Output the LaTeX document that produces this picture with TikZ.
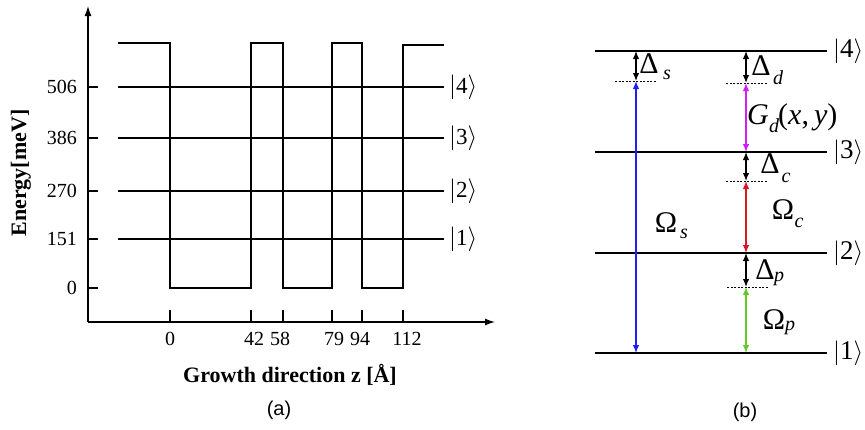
\documentclass[tikz,border=0pt]{standalone}
\usepackage{fontspec}
\setmainfont{Liberation Serif}
\newfontfamily\sansf{Liberation Sans}
\usetikzlibrary{arrows.meta}
\definecolor{cblue}{RGB}{30,30,250}
\definecolor{cmag}{RGB}{210,30,250}
\definecolor{cred}{RGB}{215,25,35}
\definecolor{cgreen}{RGB}{100,200,40}
\begin{document}
\begin{tikzpicture}[x=1pt,y=-1pt,
  axisline/.style={line width=1.3pt,-{Latex[length=10pt,width=7pt]}},
  levelline/.style={line width=1.3pt},
  tickline/.style={line width=1.1pt},
  numlab/.style={font=\fontsize{20}{20}\selectfont,inner sep=0pt},
  boldlab/.style={font=\bfseries\fontsize{22}{22}\selectfont,inner sep=0pt},
  ketL/.style={font=\fontsize{23}{23}\selectfont,inner sep=0pt,anchor=west},
  ketR/.style={font=\fontsize{27}{27}\selectfont,inner sep=0pt,anchor=west},
  caplab/.style={font=\sansf\fontsize{20}{20}\selectfont,inner sep=0pt},
  lvlR/.style={line width=1.2pt},
  dashlvl/.style={line width=0.9pt,dash pattern=on 2pt off 1.5pt},
  darrow/.style={line width=1.3pt,{Latex[length=8pt,width=6.5pt]}-{Latex[length=8pt,width=6.5pt]}},
  greek/.style={font=\fontsize{30}{30}\selectfont,inner sep=0pt},
  subs/.style={font=\itshape\fontsize{20}{20}\selectfont,inner sep=0pt,anchor=base},
]
\useasboundingbox (0,0) rectangle (865,429);

% ---------------- panel (a) ----------------
\coordinate (O) at (88,322);
\coordinate (ytop) at (88,6);
\coordinate (xend) at (495,322);
\draw[axisline] (O) -- (ytop);
\draw[axisline] (O) -- (xend);

% y ticks and labels
\foreach \v/\yy in {506/87,386/138,270/191,151/239,0/288}{
  \coordinate (yt\v) at (88,\yy);
  \coordinate (ye\v) at (98,\yy);
  \draw[tickline] (yt\v) -- (ye\v);
  \node[numlab,anchor=east] (yl\v) at (77,\yy) {\v};
}

% energy levels
\foreach \k/\yy in {4/87,3/138,2/191,1/239}{
  \coordinate (ls\k) at (118,\yy);
  \coordinate (le\k) at (444,\yy);
  \draw[levelline] (ls\k) -- (le\k);
  \node[ketL] (ka\k) at (449,\yy) {$|$\k$\rangle$};
}

% well profile
\draw[levelline] (118,43) -- (170,43) -- (170,288) -- (251,288) -- (251,43)
  -- (283,43) -- (283,288) -- (332,288) -- (332,43) -- (362,43) -- (362,288)
  -- (403,288) -- (403,45) -- (444,45);

% x ticks
\foreach \xx in {170,251,283,332,362,403}{
  \coordinate (xb\xx) at (\xx,322);
  \coordinate (xt\xx) at (\xx,310);
  \draw[tickline] (xb\xx) -- (xt\xx);
}
\node[numlab] (xl0) at (170,339) {0};
\node[numlab] (xl42) at (254,339) {42};
\node[numlab] (xl58) at (280,339) {58};
\node[numlab] (xl79) at (334,339) {79};
\node[numlab] (xl94) at (360,339) {94};
\node[numlab] (xl112) at (407,339) {112};

\node[boldlab,rotate=90] (ylab) at (21,173) {Energy[meV]};
\node[boldlab] (xlab) at (290,375) {Growth direction z [Å]};
\node[caplab] (capa) at (279,410) {(a)};

% ---------------- panel (b) ----------------
\foreach \k/\yy in {4/51,3/152,2/253,1/353}{
  \coordinate (Ls\k) at (595,\yy);
  \coordinate (Le\k) at (827,\yy);
  \draw[lvlR] (Ls\k) -- (Le\k);
  \node[ketR] (kb\k) at (833,\yy) {$|$\k$\rangle$};
}

% column s
\coordinate (s4) at (636,51);
\coordinate (sd) at (636,81);
\coordinate (s1) at (636,353);
\coordinate (sdl) at (615,81);
\coordinate (sdr) at (657,81);
\draw[dashlvl] (sdl) -- (sdr);
\draw[darrow] (s4) -- (sd);
\draw[darrow,cblue] (sd) -- (s1);

% column d/c/p
\coordinate (c4) at (746,51);
\coordinate (cd) at (746,83);
\coordinate (c3) at (746,152);
\coordinate (cc) at (746,181);
\coordinate (c2) at (746,253);
\coordinate (cp) at (746,287);
\coordinate (c1) at (746,353);
\coordinate (cdl) at (726,83);  \coordinate (cdr) at (767,83);
\coordinate (ccl) at (726,181); \coordinate (ccr) at (767,181);
\coordinate (cpl) at (727,287); \coordinate (cpr) at (769,287);
\draw[dashlvl] (cdl) -- (cdr);
\draw[dashlvl] (ccl) -- (ccr);
\draw[dashlvl] (cpl) -- (cpr);
\draw[darrow] (c4) -- (cd);
\draw[darrow,cmag] (cd) -- (c3);
\draw[darrow] (c3) -- (cc);
\draw[darrow,cred] (cc) -- (c2);
\draw[darrow] (c2) -- (cp);
\draw[darrow,cgreen] (cp) -- (c1);

% labels
\node[greek] (Ds) at (649,64) {Δ};
\node[subs] (Dss) at (667,79) {s};
\node[greek] (Dd) at (761,66) {Δ};
\node[subs] (Dds) at (778,84) {d};
\node[greek,anchor=base] (G) at (758,124) {\itshape G};
\node[subs] (Gs) at (774,132) {d};
\node[greek,anchor=base west] (Gxy) at (778,124) {(\textit{x},\,\textit{y})};
\node[greek] (Dc) at (770,164) {Δ};
\node[subs] (Dcs) at (786,182) {c};
\node[greek] (Oc) at (783,210) {Ω};
\node[subs] (Ocs) at (799,227) {c};
\node[greek] (Os) at (666,223) {Ω};
\node[subs] (Oss) at (684,238) {s};
\node[greek] (Dp) at (765,270) {Δ};
\node[subs] (Dps) at (779,281) {p};
\node[greek] (Op) at (774,320) {Ω};
\node[subs] (Ops) at (790,330) {p};
\node[caplab] (capb) at (745,412) {(b)};
\end{tikzpicture}
\end{document}
